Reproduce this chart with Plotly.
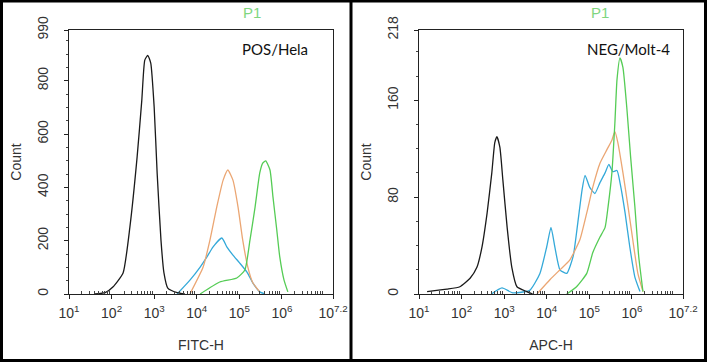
import plotly.graph_objects as go
import numpy as np

# ---------------- data (x = log10 fluorescence, y = count) ----------------
L_black_x = [1.61, 1.85, 2.03, 2.27, 2.43, 2.60, 2.71, 2.78, 2.85, 2.92, 3.00, 3.07, 3.16, 3.23, 3.32, 3.54, 3.72]
L_black_y = [0, 5, 26, 79, 251, 514, 727, 877, 895, 866, 701, 454, 202, 79, 22, 5, 0]
L_orange_x = [3.84, 4.15, 4.31, 4.47, 4.62, 4.73, 4.85, 4.97, 5.08, 5.20, 5.32, 5.48]
L_orange_y = [0, 101, 202, 326, 427, 465, 427, 326, 202, 101, 41, 8]
L_blue_x = [3.54, 3.84, 4.08, 4.24, 4.38, 4.59, 4.71, 4.85, 5.01, 5.18, 5.32, 5.48, 5.60]
L_blue_y = [0, 52, 101, 139, 176, 210, 176, 146, 116, 82, 41, 8, 0]
L_green_x = [4.08, 4.54, 4.94, 5.13, 5.25, 5.37, 5.48, 5.55, 5.62, 5.72, 5.79, 5.88, 5.95, 6.05, 6.14]
L_green_y = [0, 45, 60, 90, 202, 326, 454, 491, 499, 465, 364, 240, 139, 52, 8]

R_black_x = [1.19, 1.66, 1.96, 2.20, 2.36, 2.48, 2.60, 2.71, 2.78, 2.83, 2.90, 2.97, 3.07, 3.18, 3.30, 3.53, 3.67]
R_black_y = [2, 4, 6, 13, 22, 39, 67, 100, 125, 130, 121, 94, 55, 22, 6, 2, 0]
R_blue_x = [2.70, 2.95, 3.20, 3.60, 3.84, 4.00, 4.10, 4.19, 4.31, 4.47, 4.62, 4.73, 4.83, 4.90, 5.01, 5.13, 5.25, 5.37, 5.46, 5.55, 5.65, 5.72, 5.84, 5.95, 6.07, 6.19]
R_blue_y = [0, 5, 1, 3, 17, 39, 55, 39, 20, 17, 31, 59, 86, 98, 88, 83, 92, 100, 107, 101, 102, 92, 67, 39, 14, 2]
R_orange_x = [3.77, 4.08, 4.31, 4.54, 4.78, 4.94, 5.08, 5.25, 5.41, 5.53, 5.60, 5.67, 5.79, 5.91, 6.02, 6.14, 6.26]
R_orange_y = [0, 12, 20, 28, 45, 67, 88, 108, 119, 127, 134, 125, 100, 72, 45, 17, 2]
R_green_x = [4.47, 4.70, 4.94, 5.08, 5.25, 5.37, 5.44, 5.53, 5.60, 5.65, 5.72, 5.79, 5.88, 5.97, 6.07, 6.16, 6.26]
R_green_y = [0, 6, 17, 34, 47, 55, 72, 100, 141, 177, 195, 187, 154, 113, 72, 31, 2]

x_tickvals = [1, 2, 3, 4, 5, 6, 7.2]
x_ticktext = ["10<sup>1</sup>", "10<sup>2</sup>", "10<sup>3</sup>", "10<sup>4</sup>",
              "10<sup>5</sup>", "10<sup>6</sup>", "10<sup>7.2</sup>"]
L_yticks = [0, 200, 400, 600, 800, 990]
R_yticks = [0, 80, 160, 218]

# ---------------- figure ----------------
W, H = 707, 362
def px(x): return x / W
def py(y): return 1 - y / H

COL = dict(black="#1a1a1a", orange="#eba673", blue="#34a9d9", green="#55cc55")

fig = go.Figure()
def add(x, y, col, xa, ya):
    fig.add_trace(go.Scatter(x=x, y=y, mode="lines",
                             line=dict(color=col, width=1.3, shape="spline", smoothing=0.5),
                             xaxis=xa, yaxis=ya, showlegend=False, hoverinfo="skip"))

add(L_blue_x, L_blue_y, COL["blue"], "x", "y")
add(L_orange_x, L_orange_y, COL["orange"], "x", "y")
add(L_green_x, L_green_y, COL["green"], "x", "y")
add(L_black_x, L_black_y, COL["black"], "x", "y")
add(R_blue_x, R_blue_y, COL["blue"], "x2", "y2")
add(R_orange_x, R_orange_y, COL["orange"], "x2", "y2")
add(R_green_x, R_green_y, COL["green"], "x2", "y2")
add(R_black_x, R_black_y, COL["black"], "x2", "y2")

minor_x = [np.log10(k * 10 ** d) for d in range(1, 8) for k in range(2, 10) if np.log10(k * 10 ** d) < 7.2]
tickfont = dict(family="Liberation Sans, Arial", size=14, color="#333333")
titlefont = dict(family="Liberation Sans, Arial", size=14, color="#333333")

def xaxis(dom, title):
    return dict(domain=dom, range=[1, 7.2], tickvals=x_tickvals, ticktext=x_ticktext,
                ticks="outside", ticklen=4, tickcolor="#222", showline=True, linecolor="#222",
                linewidth=1.2, mirror=True, showgrid=False, zeroline=False, tickfont=tickfont,
                automargin=False, ticklabelstandoff=2,
                minor=dict(tickvals=minor_x, ticks="inside", ticklen=3, tickcolor="#444", showgrid=False),
                title=dict(text=title, font=titlefont, standoff=20), fixedrange=True)

def yaxis(dom, rng, ticks, minor_dt, anchor):
    return dict(domain=dom, range=rng, tickvals=ticks, ticktext=[str(t) for t in ticks],
                ticks="outside", ticklen=4, tickcolor="#222", showline=True, linecolor="#222",
                linewidth=1.2, mirror=True, showgrid=False, zeroline=False, tickfont=tickfont,
                tickangle=-90, anchor=anchor, automargin=False, ticklabelstandoff=10,
                minor=dict(dtick=minor_dt, tick0=0, ticks="outside", ticklen=2, tickcolor="#444", showgrid=False),
                title=dict(text="Count", font=titlefont, standoff=10), fixedrange=True)

ydom = [py(294), py(30)]
fig.update_layout(
    width=W, height=H, margin=dict(l=0, r=0, t=0, b=0, autoexpand=False),
    paper_bgcolor="white", plot_bgcolor="white",
    xaxis=xaxis([px(69), px(333)], "FITC-H") | dict(anchor="y"),
    yaxis=yaxis(ydom, [0, 990], L_yticks, 50, "x"),
    xaxis2=xaxis([px(419), px(683)], "APC-H") | dict(anchor="y2"),
    yaxis2=yaxis(ydom, [0, 218], R_yticks, 20, "x2"),
)

annots = [
    dict(text="P1", x=px(252), y=py(13), font=dict(color="#7fd67f", size=15, family="Liberation Sans, Arial")),
    dict(text="P1", x=px(600), y=py(13), font=dict(color="#7fd67f", size=15, family="Liberation Sans, Arial")),
    dict(text="POS/Hela", x=px(275), y=py(49), font=dict(color="#111", size=15, family="Lato, Open Sans")),
    dict(text="NEG/Molt-4", x=px(628), y=py(49), font=dict(color="#111", size=15, family="Lato, Open Sans")),
]
for a in annots:
    fig.add_annotation(xref="paper", yref="paper", showarrow=False, xanchor="center", yanchor="middle", **a)

# outer frame and divider
fig.add_shape(type="rect", xref="paper", yref="paper", x0=px(1.5), x1=px(705.5), y0=py(360.5), y1=py(1),
              line=dict(color="black", width=3))
fig.add_shape(type="line", xref="paper", yref="paper", x0=px(351), x1=px(351), y0=0, y1=1,
              line=dict(color="black", width=3))

fig.write_html("out.html", config=dict(displayModeBar=False, staticPlot=True),
               post_script="document.body.style.margin='0px';document.body.style.overflow='hidden';")
